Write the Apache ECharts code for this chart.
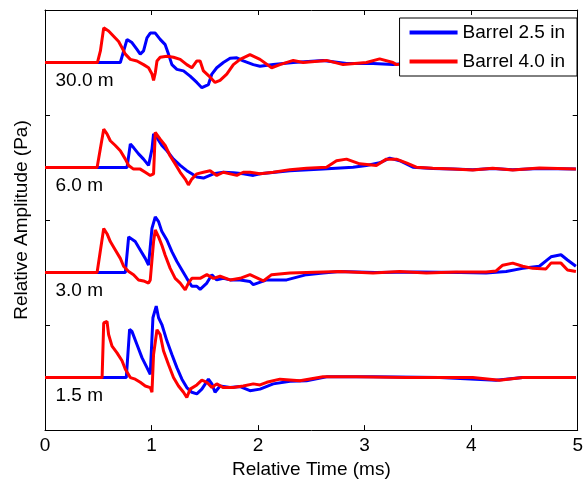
<!DOCTYPE html>
<html>
<head>
<meta charset="utf-8">
<script src="https://cdn.jsdelivr.net/npm/echarts@6/dist/echarts.min.js"></script>
<style>
html,body{margin:0;padding:0;background:#fff;}
#chart{width:586px;height:484px;}
</style>
</head>
<body>
<div id="chart"></div>
<script>
// ---- data ----
const seriesNames = ['Barrel 2.5 in', 'Barrel 4.0 in'];
const distanceLabels = ['30.0 m', '6.0 m', '3.0 m', '1.5 m'];
const traceOffsets = [3.5, 2.5, 1.5, 0.5];
const xTicks = [0, 1, 2, 3, 4, 5];

// 30.0 m
const t30Blue = [0, 0.707, 0.770, 0.816, 0.863, 0.894, 0.925, 0.957, 0.988, 1.035, 1.081, 1.128, 1.159, 1.191, 1.238, 1.300, 1.362, 1.425, 1.472, 1.534, 1.566, 1.612, 1.674, 1.737, 1.800, 1.861, 1.955, 2.018, 2.142, 2.330, 2.610, 2.830, 3.079, 3.266, 3.500, 3.800, 4.100, 4.400, 4.700, 4.983];
const a30Blue = [0, 0, 0.22, 0.19, 0.125, 0.08, 0.11, 0.235, 0.28, 0.28, 0.22, 0.17, 0.08, -0.02, -0.065, -0.08, -0.13, -0.19, -0.24, -0.21, -0.11, -0.05, 0.0, 0.04, 0.045, 0.015, -0.02, -0.035, -0.02, 0.0, 0.02, -0.01, -0.01, -0.02, 0.0, 0.01, -0.01, 0.0, 0.0, -0.02];
const t30Red = [0, 0.492, 0.520, 0.551, 0.597, 0.644, 0.691, 0.723, 0.754, 0.801, 0.863, 0.925, 0.972, 1.004, 1.019, 1.035, 1.051, 1.081, 1.144, 1.206, 1.269, 1.331, 1.378, 1.425, 1.456, 1.487, 1.550, 1.596, 1.643, 1.706, 1.768, 1.831, 1.924, 2.018, 2.127, 2.205, 2.330, 2.423, 2.642, 2.798, 3.017, 3.141, 3.266, 3.298, 3.500, 3.800, 4.100, 4.400, 4.700, 4.983];
const a30Red = [0, 0, 0.11, 0.33, 0.30, 0.25, 0.20, 0.14, 0.08, 0.03, 0.015, -0.02, -0.05, -0.11, -0.17, -0.10, 0.015, 0.05, 0.06, 0.05, 0.03, -0.02, -0.05, 0.015, 0.015, -0.08, -0.14, -0.19, -0.17, -0.11, -0.02, 0.03, 0.075, 0.03, -0.05, -0.02, 0.02, 0.0, 0.02, -0.02, 0.0, 0.035, 0.0, -0.02, 0.01, 0.0, 0.01, 0.0, 0.01, 0.01];

// 6.0 m
const t6Blue = [0, 0.770, 0.801, 0.831, 0.878, 0.925, 0.972, 1.004, 1.019, 1.051, 1.097, 1.144, 1.206, 1.269, 1.331, 1.378, 1.425, 1.487, 1.581, 1.674, 1.768, 1.861, 1.955, 2.018, 2.299, 2.610, 2.891, 3.017, 3.141, 3.235, 3.329, 3.453, 3.640, 3.828, 4.015, 4.202, 4.390, 4.640, 4.983];
const a6Blue = [0, 0, 0.225, 0.19, 0.13, 0.08, 0.02, 0.175, 0.32, 0.285, 0.21, 0.16, 0.08, 0.02, -0.03, -0.06, -0.09, -0.10, -0.06, -0.045, -0.05, -0.06, -0.075, -0.06, -0.03, -0.013, 0.003, 0.02, 0.045, 0.09, 0.065, 0.003, -0.01, -0.015, -0.02, -0.01, -0.02, -0.01, -0.015];
const t6Red = [0, 0.489, 0.551, 0.582, 0.613, 0.660, 0.707, 0.754, 0.785, 0.831, 0.894, 0.941, 0.988, 1.019, 1.035, 1.051, 1.081, 1.128, 1.175, 1.222, 1.269, 1.316, 1.346, 1.378, 1.425, 1.487, 1.550, 1.612, 1.674, 1.737, 1.800, 1.861, 1.924, 2.018, 2.142, 2.299, 2.455, 2.642, 2.736, 2.830, 2.954, 3.110, 3.204, 3.298, 3.391, 3.485, 3.640, 3.828, 4.015, 4.202, 4.390, 4.640, 4.983];
const a6Red = [0, 0, 0.365, 0.32, 0.255, 0.21, 0.16, 0.08, 0.02, -0.015, -0.015, -0.045, -0.075, -0.06, 0.335, 0.35, 0.27, 0.21, 0.11, 0.035, -0.045, -0.11, -0.165, -0.11, -0.06, -0.045, -0.03, -0.075, -0.045, -0.06, -0.075, -0.045, -0.045, -0.06, -0.045, -0.02, -0.007, 0.003, 0.065, 0.08, 0.035, 0.02, 0.08, 0.08, 0.045, 0.003, -0.007, -0.013, -0.023, -0.007, -0.023, -0.004, -0.013];

// 3.0 m
const t3Blue = [0, 0.754, 0.785, 0.801, 0.847, 0.894, 0.941, 0.972, 1.004, 1.035, 1.066, 1.097, 1.144, 1.191, 1.238, 1.285, 1.331, 1.378, 1.425, 1.456, 1.519, 1.566, 1.612, 1.674, 1.737, 1.831, 1.924, 1.955, 2.081, 2.268, 2.455, 2.610, 2.767, 3.100, 3.500, 3.900, 4.140, 4.328, 4.483, 4.640, 4.749, 4.843, 4.904, 4.983];
const a3Blue = [0, 0, 0.34, 0.355, 0.295, 0.215, 0.135, 0.07, 0.42, 0.53, 0.485, 0.39, 0.31, 0.20, 0.105, 0.025, -0.055, -0.13, -0.13, -0.16, -0.10, -0.02, -0.07, -0.055, -0.07, -0.07, -0.085, -0.115, -0.07, -0.07, -0.02, -0.005, 0.01, 0.0, 0.005, 0.0, -0.005, 0.01, 0.04, 0.06, 0.15, 0.17, 0.12, 0.06];
const t3Red = [0, 0.489, 0.551, 0.582, 0.613, 0.660, 0.707, 0.738, 0.785, 0.831, 0.878, 0.925, 0.972, 0.988, 1.019, 1.035, 1.066, 1.097, 1.128, 1.175, 1.222, 1.269, 1.316, 1.346, 1.378, 1.456, 1.519, 1.581, 1.643, 1.737, 1.831, 1.924, 2.049, 2.127, 2.299, 2.455, 2.767, 3.079, 3.329, 3.579, 3.859, 4.140, 4.234, 4.296, 4.390, 4.483, 4.577, 4.702, 4.749, 4.843, 4.904, 4.983];
const a3Red = [0, 0, 0.42, 0.37, 0.295, 0.215, 0.135, 0.06, 0.01, -0.02, -0.07, -0.08, -0.10, -0.07, 0.295, 0.405, 0.34, 0.26, 0.165, 0.04, -0.055, -0.10, -0.165, -0.10, -0.055, -0.055, -0.02, -0.055, -0.035, -0.07, -0.055, -0.02, -0.08, -0.02, -0.005, 0.0, 0.01, -0.005, 0.01, -0.005, 0.005, 0.005, 0.015, 0.07, 0.09, 0.06, 0.04, 0.035, 0.09, 0.09, 0.025, 0.01];

// 1.5 m
const t15Blue = [0, 0.763, 0.794, 0.816, 0.863, 0.910, 0.957, 0.988, 1.013, 1.044, 1.066, 1.097, 1.144, 1.191, 1.238, 1.285, 1.331, 1.378, 1.425, 1.472, 1.534, 1.566, 1.596, 1.643, 1.737, 1.831, 1.924, 2.018, 2.142, 2.299, 2.455, 2.642, 3.079, 3.703, 4.234, 4.483, 4.983];
const a15Blue = [0, 0, 0.46, 0.44, 0.315, 0.19, 0.095, 0.03, 0.57, 0.68, 0.57, 0.505, 0.35, 0.22, 0.095, -0.015, -0.095, -0.14, -0.155, -0.11, -0.015, -0.06, -0.14, -0.08, -0.095, -0.085, -0.125, -0.11, -0.06, -0.035, -0.03, 0.007, 0.007, 0.0, -0.025, 0.0, 0.0];
const t15Red = [0, 0.536, 0.551, 0.582, 0.597, 0.629, 0.676, 0.723, 0.754, 0.801, 0.847, 0.894, 0.941, 0.988, 1.004, 1.019, 1.051, 1.081, 1.112, 1.159, 1.206, 1.253, 1.300, 1.331, 1.362, 1.425, 1.472, 1.519, 1.566, 1.612, 1.674, 1.768, 1.861, 1.955, 2.018, 2.081, 2.205, 2.392, 2.610, 2.923, 3.391, 4.015, 4.265, 4.483, 4.983];
const a15Red = [0, 0, 0.52, 0.535, 0.41, 0.30, 0.235, 0.16, 0.08, 0.0, -0.015, -0.045, -0.08, -0.095, -0.14, 0.22, 0.455, 0.41, 0.255, 0.125, 0.0, -0.08, -0.14, -0.19, -0.11, -0.07, -0.025, -0.045, -0.095, -0.06, -0.095, -0.095, -0.08, -0.06, -0.07, -0.045, -0.015, -0.03, 0.007, 0.007, 0.0, 0.0, -0.025, 0.0, 0.0];

// ---- build ----
const blueTraces = [[t30Blue, a30Blue], [t6Blue, a6Blue], [t3Blue, a3Blue], [t15Blue, a15Blue]];
const redTraces = [[t30Red, a30Red], [t6Red, a6Red], [t3Red, a3Red], [t15Red, a15Red]];
const FONT = "'Liberation Sans', Arial, sans-serif";
const TXT = '#000';

function toPairs(tr, off) {
  return tr[0].map((t, i) => [t, tr[1][i] + off]);
}
const series = [];
blueTraces.forEach((tr, k) => series.push({
  type: 'line', name: seriesNames[0], data: toPairs(tr, traceOffsets[k]),
  symbol: 'none', showSymbol: false, z: 2,
  lineStyle: { color: '#0000ff', width: 3 }, itemStyle: { color: '#0000ff' }
}));
redTraces.forEach((tr, k) => series.push({
  type: 'line', name: seriesNames[1], data: toPairs(tr, traceOffsets[k]),
  symbol: 'none', showSymbol: false, z: 3,
  lineStyle: { color: '#ff0000', width: 3 }, itemStyle: { color: '#ff0000' }
}));
series.push({
  type: 'scatter', name: 'labels', silent: true, z: 5,
  symbolSize: 0.1, itemStyle: { color: 'transparent', opacity: 1 },
  data: distanceLabels.map((s, k) => [0.098, traceOffsets[k] - 0.172, s]),
  label: { show: true, position: 'right', distance: 0, formatter: p => p.value[2],
           fontFamily: FONT, fontSize: 19, color: TXT, opacity: 1 }
});

function axisLine() { return { show: true, onZero: false, lineStyle: { color: '#000', width: 1 } }; }
function tick() { return { show: true, inside: true, length: 5, lineStyle: { color: '#000', width: 1 } }; }

const chart = echarts.init(document.getElementById('chart'), null, { renderer: 'canvas' });
chart.setOption({
  animation: false,
  backgroundColor: '#fff',
  grid: { left: 45, right: 8, top: 10, bottom: 51, containLabel: false },
  legend: {
    data: seriesNames, orient: 'vertical', right: 9, top: 18,
    backgroundColor: '#fff', borderColor: '#000', borderWidth: 1, borderRadius: 0,
    padding: [5, 12, 5, 10], itemGap: 10, itemWidth: 48, itemHeight: 4, icon: 'rect',
    textStyle: { fontFamily: FONT, fontSize: 19, color: TXT }, z: 10
  },
  xAxis: [{
    type: 'value', min: 0, max: 5, interval: 1, position: 'bottom',
    name: 'Relative Time (ms)', nameLocation: 'middle', nameGap: 29,
    nameTextStyle: { fontFamily: FONT, fontSize: 19, color: TXT },
    axisLine: axisLine(), axisTick: tick(), splitLine: { show: false },
    axisLabel: { show: true, inside: false, margin: 6, fontFamily: FONT, fontSize: 19, color: TXT,
                 formatter: v => xTicks.includes(v) ? String(v) : '' }
  }, {
    type: 'value', min: 0, max: 5, interval: 1, position: 'top',
    axisLine: axisLine(), axisTick: tick(), splitLine: { show: false }, axisLabel: { show: false }
  }],
  yAxis: [{
    type: 'value', min: 0, max: 4, interval: 1, position: 'left',
    name: 'Relative Amplitude (Pa)', nameLocation: 'middle', nameGap: 14, nameRotate: 90,
    nameTextStyle: { fontFamily: FONT, fontSize: 19, color: TXT },
    axisLine: axisLine(), axisTick: tick(), splitLine: { show: false }, axisLabel: { show: false }
  }, {
    type: 'value', min: 0, max: 4, interval: 1, position: 'right',
    axisLine: axisLine(), axisTick: tick(), splitLine: { show: false }, axisLabel: { show: false }
  }],
  series: series
});
</script>
</body>
</html>
